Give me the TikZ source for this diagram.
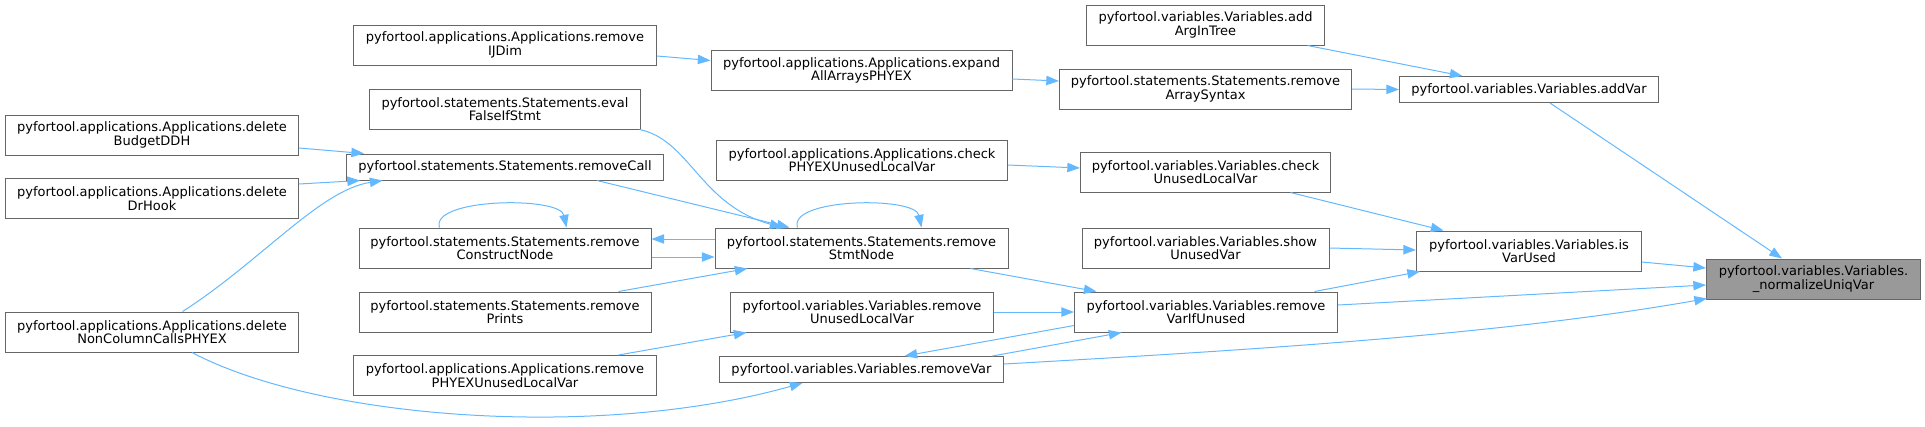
\documentclass[tikz,border=0pt]{standalone}
\usepackage{fontspec}
\setmainfont{DejaVu Sans}
\usepackage{tikz}
\usetikzlibrary{calc,arrows.meta}
\definecolor{edgeBlue}{RGB}{99, 184, 255}
\definecolor{boxGrey}{RGB}{102, 102, 102}
\definecolor{hlGrey}{RGB}{153, 153, 153}
\tikzset{
    fnbox/.style={draw=boxGrey, line width=0.75pt, fill=white, rectangle, inner sep=0pt,
        minimum height=30pt, align=center, font=\fontsize{9.75}{10}\selectfont},
    hlbox/.style={fnbox, fill=hlGrey},
    calledge/.style={draw=edgeBlue, line width=0.75pt, -{Triangle[length=9.5pt,width=7pt]}}
}

\begin{document}
\begin{tikzpicture}[x=0.75pt, y=-0.75pt]
    \useasboundingbox (0,0) rectangle (1925,426);
    \node[fnbox, minimum width=227.25pt] (ij) at (505,45) {pyfortool.applications.Applications.remove\\IJDim};
    \node[fnbox, minimum width=203.25pt] (ev) at (505,109) {pyfortool.statements.Statements.eval\\FalseIfStmt};
    \node[fnbox, minimum width=219.75pt] (bd) at (152,135) {pyfortool.applications.Applications.delete\\BudgetDDH};
    \node[fnbox, minimum width=237.75pt, minimum height=19.5pt] (rc) at (505,167) {pyfortool.statements.Statements.removeCall};
    \node[fnbox, minimum width=219.75pt] (dh) at (152,198.5) {pyfortool.applications.Applications.delete\\DrHook};
    \node[fnbox, minimum width=219pt] (cn) at (505,248) {pyfortool.statements.Statements.remove\\ConstructNode};
    \node[fnbox, minimum width=219pt] (pr) at (505,312) {pyfortool.statements.Statements.remove\\Prints};
    \node[fnbox, minimum width=219.75pt] (nc) at (152,332) {pyfortool.applications.Applications.delete\\NonColumnCallsPHYEX};
    \node[fnbox, minimum width=227.25pt] (pu) at (505,375.5) {pyfortool.applications.Applications.remove\\PHYEXUnusedLocalVar};
    \node[fnbox, minimum width=225.75pt] (ex) at (861.5,70.5) {pyfortool.applications.Applications.expand\\AllArraysPHYEX};
    \node[fnbox, minimum width=218.25pt] (cp) at (862,160) {pyfortool.applications.Applications.check\\PHYEXUnusedLocalVar};
    \node[fnbox, minimum width=219.75pt] (sn) at (861.5,248) {pyfortool.statements.Statements.remove\\StmtNode};
    \node[fnbox, minimum width=197.25pt] (ul) at (862,312) {pyfortool.variables.Variables.remove\\UnusedLocalVar};
    \node[fnbox, minimum width=213pt, minimum height=19.5pt] (rv) at (861.5,369.5) {pyfortool.variables.Variables.removeVar};
    \node[fnbox, minimum width=178.5pt] (at) at (1205.5,25) {pyfortool.variables.Variables.add\\ArgInTree};
    \node[fnbox, minimum width=219pt] (as) at (1205.5,89) {pyfortool.statements.Statements.remove\\ArraySyntax};
    \node[fnbox, minimum width=187.5pt] (cu) at (1205.5,172) {pyfortool.variables.Variables.check\\UnusedLocalVar};
    \node[fnbox, minimum width=185.25pt] (su) at (1205.5,248) {pyfortool.variables.Variables.show\\UnusedVar};
    \node[fnbox, minimum width=197.25pt] (vu) at (1206,312) {pyfortool.variables.Variables.remove\\VarIfUnused};
    \node[fnbox, minimum width=194.25pt, minimum height=19.5pt] (av) at (1529,89.5) {pyfortool.variables.Variables.addVar};
    \node[fnbox, minimum width=168.75pt] (iu) at (1529,251) {pyfortool.variables.Variables.is\\VarUsed};
    \node[hlbox, minimum width=160.5pt] (nu) at (1813.5,279) {pyfortool.variables.Variables.\\\_normalizeUniqVar};

    \draw[calledge] ($(ij.east)+(0,11)$) -- ($(ex.west)+(0,-10)$);
    \draw[calledge] ($(ex.east)+(0,8.5)$) -- ($(as.west)+(0,-8)$);
    \draw[calledge] ($(at.south east)+(-17.5,0)$) -- ($(av.north west)+(63.5,0)$);
    \draw[calledge] (as.east) -- (av.west);
    \draw[calledge] ($(av.south)+(21,0)$) -- ($(nu.north)+(-31.5,0)$);
    \draw[calledge] ($(ev.south east)+(-1.5,0)$) .. controls (690,140) and (700,205) .. ($(sn.north west)+(68,0)$);
    \draw[calledge] ($(bd.east)+(0,13)$) -- ($(rc.north west)+(18,0)$);
    \draw[calledge] ($(dh.east)+(0,-14.5)$) -- ($(rc.south west)+(14,0)$);
    \draw[calledge] ($(nc.north)+(30.5,0)$) .. controls (260,262) and (320,190) .. ($(rc.south west)+(36.5,0)$);
    \draw[calledge] ($(rc.south)+(92,0)$) -- ($(sn.north west)+(75,0)$);
    \draw[calledge] ($(cn.north west)+(81,0)$) .. controls (430,198) and (560,196) .. ($(cn.north west)+(208,0)$);
    \draw[calledge] ($(sn.north west)+(83,0)$) .. controls (788,198) and (915,196) .. ($(sn.north west)+(207,0)$);
    \draw[calledge] ($(sn.west)+(0,-9)$) -- ($(cn.east)+(0,-9)$);
    \draw[calledge] ($(cn.east)+(0,9)$) -- ($(sn.west)+(0,9)$);
    \draw[calledge] ($(pr.north east)+(-33,0)$) -- ($(sn.south west)+(33,0)$);
    \draw[calledge] ($(sn.south east)+(-38,0)$) -- ($(vu.north west)+(22.5,0)$);
    \draw[calledge] ($(cp.east)+(0,5)$) -- ($(cu.west)+(0,-4)$);
    \draw[calledge] ($(cu.south east)+(-40.5,0)$) -- ($(iu.north west)+(27.5,0)$);
    \draw[calledge] (su.east) -- ($(iu.west)+(0,-1)$);
    \draw[calledge] ($(vu.north east)+(-23.5,0)$) -- ($(iu.south west)+(4,0)$);
    \draw[calledge] ($(iu.east)+(0,11)$) -- ($(nu.west)+(0,-11)$);
    \draw[calledge] ($(vu.east)+(0,-7)$) -- ($(nu.west)+(0,6)$);
    \draw[calledge] ($(rv.east)+(0,-5.5)$) .. controls (1250,350) and (1500,335) .. ($(nu.south west)+(1,-1)$);
    \draw[calledge] (ul.east) -- (vu.west);
    \draw[calledge] ($(pu.north east)+(-38.5,0)$) -- ($(ul.south west)+(16.5,0)$);
    \draw[calledge] ($(vu.south west)+(0,-7)$) -- ($(rv.north west)+(185.5,0)$);
    \draw[calledge] ($(rv.north east)+(-11.5,0)$) -- ($(vu.south west)+(47.5,0)$);
    \draw[calledge] ($(nc.south)+(40,0)$) .. controls (320,420) and (600,440) .. ($(rv.south west)+(83.5,0)$);
\end{tikzpicture}
\end{document}
